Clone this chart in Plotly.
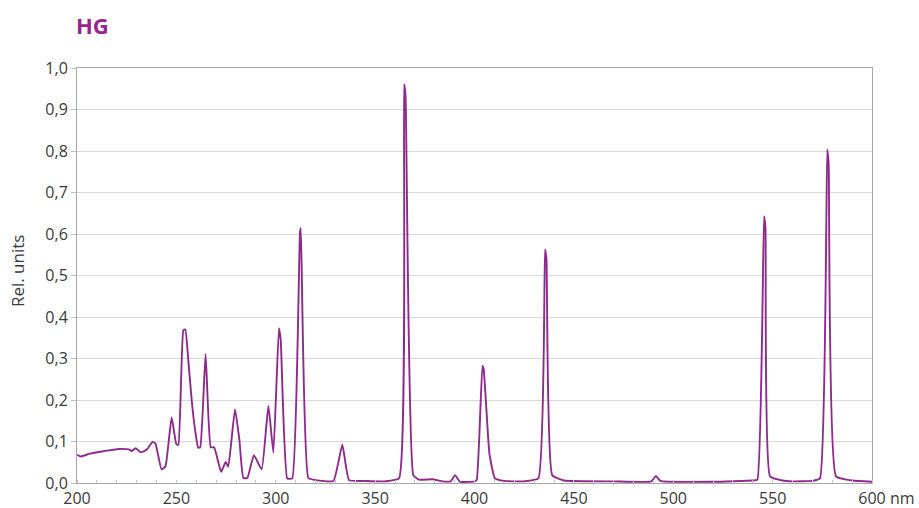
import plotly.graph_objects as go

wavelength_nm = [200, 202, 206, 210, 215, 221, 226, 227.5, 229.5, 232, 235, 238, 239.5, 242.5, 244.5,
                 247.6, 250, 251, 253.5, 254.5, 256, 257.7, 259.4, 261, 262, 264.7, 267.3, 269, 272.5,
                 274.8, 276.1, 279.5, 281.7, 283.7, 285.7, 289, 292.9, 296.3, 298.8, 301.6, 302.5, 305.8,
                 308.3, 312.2, 312.6, 316.4, 320, 329, 333.5, 336.9, 345, 355, 362, 364.6, 365.3, 369.2,
                 372, 378.8, 384, 388, 390.2, 392.7, 400, 401.1, 404.0, 404.6, 407.5, 410.3, 415, 425,
                 432.1, 435.5, 436.2, 439.1, 445, 470, 489, 491.3, 493.5, 520, 540, 542.3, 545.7, 546.4,
                 548.7, 555, 560, 570, 573.8, 577.5, 578.2, 581.9, 590, 600]
rel_units = [0.068, 0.064, 0.070, 0.074, 0.078, 0.082, 0.081, 0.077, 0.084, 0.074, 0.080, 0.099, 0.095,
             0.033, 0.040, 0.158, 0.093, 0.092, 0.368, 0.370, 0.296, 0.200, 0.128, 0.085, 0.086, 0.311,
             0.086, 0.086, 0.027, 0.051, 0.039, 0.178, 0.104, 0.012, 0.012, 0.067, 0.033, 0.186, 0.073,
             0.373, 0.345, 0.011, 0.011, 0.605, 0.614, 0.012, 0.007, 0.005, 0.092, 0.007, 0.005, 0.004,
             0.011, 0.961, 0.935, 0.019, 0.008, 0.009, 0.004, 0.004, 0.019, 0.003, 0.004, 0.007, 0.282,
             0.275, 0.071, 0.011, 0.005, 0.004, 0.011, 0.563, 0.540, 0.019, 0.006, 0.004, 0.004, 0.017,
             0.005, 0.003, 0.006, 0.008, 0.643, 0.615, 0.016, 0.006, 0.004, 0.005, 0.011, 0.804, 0.770,
             0.016, 0.006, 0.003]

x_tickvals = [200, 250, 300, 350, 400, 450, 500, 550, 600]
x_ticktext = ["200", "250", "300", "350", "400", "450", "500", "550", "600"]
y_tickvals = [0.0, 0.1, 0.2, 0.3, 0.4, 0.5, 0.6, 0.7, 0.8, 0.9, 1.0]

PURPLE = "#8E2A8C"
FONT = "Open Sans"

fig = go.Figure()
fig.add_trace(go.Scatter(x=wavelength_nm, y=rel_units, mode="lines",
                         line=dict(color=PURPLE, width=1.9, shape="spline", smoothing=0.4),
                         hoverinfo="skip", showlegend=False))

fig.update_layout(
    width=919, height=508,
    margin=dict(l=77, r=47, t=68, b=25),
    paper_bgcolor="white", plot_bgcolor="white",
    separators=",.",
    font=dict(family=FONT, size=16, color="#3a3a3a"),
    xaxis=dict(range=[200, 600], tickvals=x_tickvals, ticktext=x_ticktext, automargin=False,
               showgrid=False, showline=True, linecolor="#a6a6a6", linewidth=1, mirror=True,
               ticks="", ticklabelstandoff=1, zeroline=False,
               minor=dict(dtick=10, ticks="inside", ticklen=3, tickcolor="#c8c8c8", showgrid=False)),
    yaxis=dict(range=[0, 1], tickvals=y_tickvals, tickformat=".1f", automargin=False,
               showgrid=True, gridcolor="#d9d9d9", gridwidth=1,
               showline=True, linecolor="#a6a6a6", linewidth=1, mirror=True,
               ticks="outside", ticklen=5, tickcolor="#bfbfbf", zeroline=False),
)

fig.add_annotation(text="<b>HG</b>", xref="paper", yref="paper", x=-0.004, y=1.104,
                   xanchor="left", yanchor="middle", showarrow=False,
                   font=dict(family=FONT, size=22, color="#93278F"))
fig.add_annotation(text="Rel. units", xref="paper", yref="paper", x=-0.074, y=0.511,
                   xanchor="center", yanchor="middle", textangle=-90, showarrow=False,
                   font=dict(family=FONT, size=17, color="#3a3a3a"))
fig.add_annotation(text="nm", xref="paper", yref="paper", x=1.0214, y=-0.0365,
                   xanchor="left", yanchor="middle", showarrow=False, borderpad=0,
                   font=dict(family=FONT, size=16, color="#3a3a3a"))

fig.write_html("out.html")
